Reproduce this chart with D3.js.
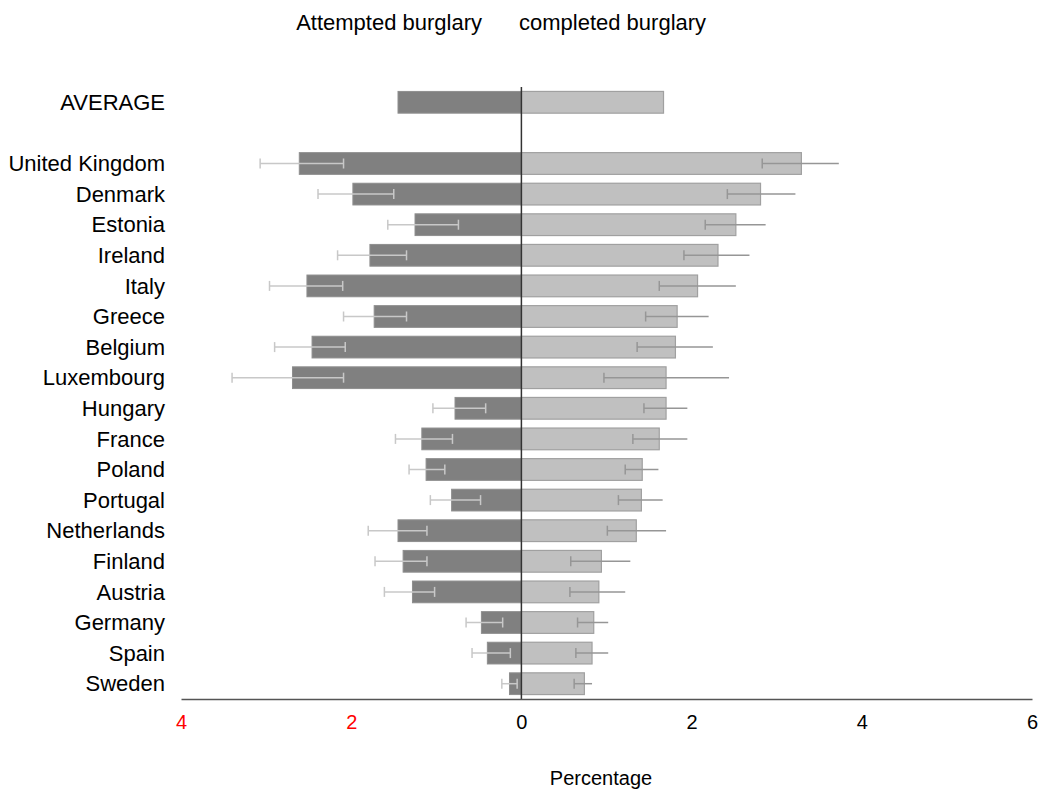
<!DOCTYPE html>
<html>
<head>
<meta charset="utf-8">
<script src="https://cdn.jsdelivr.net/npm/d3@7"></script>
<style>
  html, body { margin: 0; padding: 0; background: #fff; }
  svg { display: block; }
  text { font-family: "Liberation Sans", Arial, sans-serif; }
</style>
</head>
<body>
<svg id="chart" width="1040" height="792"></svg>
<script>
// ---- data ----
const categories = ["AVERAGE", "United Kingdom", "Denmark", "Estonia", "Ireland", "Italy", "Greece",
  "Belgium", "Luxembourg", "Hungary", "France", "Poland", "Portugal", "Netherlands",
  "Finland", "Austria", "Germany", "Spain", "Sweden"];
const attempted = [1.45, 2.61, 1.98, 1.25, 1.78, 2.52, 1.73, 2.46, 2.69, 0.78, 1.17, 1.12, 0.82, 1.45, 1.39, 1.28, 0.47, 0.40, 0.14];
const attemptedLow = [null, 2.09, 1.50, 0.74, 1.35, 2.10, 1.35, 2.07, 2.09, 0.42, 0.81, 0.90, 0.48, 1.11, 1.11, 1.02, 0.22, 0.13, 0.05];
const attemptedHigh = [null, 3.07, 2.39, 1.57, 2.16, 2.96, 2.09, 2.90, 3.40, 1.04, 1.48, 1.32, 1.07, 1.80, 1.72, 1.61, 0.65, 0.58, 0.23];
const completed = [1.67, 3.29, 2.81, 2.52, 2.31, 2.07, 1.83, 1.81, 1.70, 1.70, 1.62, 1.42, 1.41, 1.35, 0.94, 0.91, 0.85, 0.83, 0.74];
const completedLow = [null, 2.83, 2.42, 2.16, 1.91, 1.62, 1.46, 1.36, 0.97, 1.44, 1.31, 1.22, 1.14, 1.01, 0.58, 0.57, 0.66, 0.64, 0.62];
const completedHigh = [null, 3.73, 3.22, 2.87, 2.68, 2.52, 2.20, 2.25, 2.44, 1.95, 1.95, 1.61, 1.66, 1.70, 1.28, 1.22, 1.02, 1.02, 0.83];
const tickValues = [-4, -2, 0, 2, 4, 6];
const seriesTitles = ["Attempted burglary", "completed burglary"];
const axisTitle = "Percentage";

// ---- build rows ----
const SPACER = "__spacer__";
const rows = categories.map((c, i) => ({
  name: c,
  att: attempted[i], attLo: attemptedLow[i], attHi: attemptedHigh[i],
  comp: completed[i], compLo: completedLow[i], compHi: completedHigh[i]
}));
const domainY = [categories[0], SPACER].concat(categories.slice(1));

const svg = d3.select("#chart");
const x = d3.scaleLinear().domain([-4, 6]).range([181, 1032]);
const y = d3.scaleBand().domain(domainY).range([87, 699]).paddingInner(0.29).paddingOuter(0.145);

// bars: attempted (left, plotted negative)
svg.append("g").selectAll("rect").data(rows).join("rect")
  .attr("x", d => x(-d.att))
  .attr("y", d => y(d.name))
  .attr("width", d => x(0) - x(-d.att))
  .attr("height", y.bandwidth())
  .attr("fill", "#808080")
  .attr("stroke", "#8e8e8e")
  .attr("stroke-width", 1);

// bars: completed (right)
svg.append("g").selectAll("rect").data(rows).join("rect")
  .attr("x", x(0))
  .attr("y", d => y(d.name))
  .attr("width", d => x(d.comp) - x(0))
  .attr("height", y.bandwidth())
  .attr("fill", "#c0c0c0")
  .attr("stroke", "#a0a0a0")
  .attr("stroke-width", 1.2);

// error bars attempted (light, caps both ends)
const capH = 10;
const eAtt = svg.append("g").attr("stroke", "#c8c8c8").attr("stroke-width", 1.5);
rows.filter(d => d.attLo != null).forEach(d => {
  const cy = y(d.name) + y.bandwidth() / 2;
  const x1 = x(-d.attHi), x2 = x(-d.attLo);
  eAtt.append("line").attr("x1", x1).attr("x2", x2).attr("y1", cy).attr("y2", cy);
  eAtt.append("line").attr("x1", x1).attr("x2", x1).attr("y1", cy - capH / 2).attr("y2", cy + capH / 2);
  eAtt.append("line").attr("x1", x2).attr("x2", x2).attr("y1", cy - capH / 2).attr("y2", cy + capH / 2);
});

// error bars completed (darker, cap at inner end)
const eComp = svg.append("g").attr("stroke", "#969696").attr("stroke-width", 1.5);
rows.filter(d => d.compLo != null).forEach(d => {
  const cy = y(d.name) + y.bandwidth() / 2;
  const x1 = x(d.compLo), x2 = x(d.compHi);
  eComp.append("line").attr("x1", x1).attr("x2", x2).attr("y1", cy).attr("y2", cy);
  eComp.append("line").attr("x1", x1).attr("x2", x1).attr("y1", cy - capH / 2).attr("y2", cy + capH / 2);
});

// zero line
svg.append("line")
  .attr("x1", x(0)).attr("x2", x(0))
  .attr("y1", 87).attr("y2", 699)
  .attr("stroke", "#333").attr("stroke-width", 1.5);

// x axis
const xAxis = d3.axisBottom(x).tickValues(tickValues).tickSize(0).tickSizeOuter(0).tickPadding(16)
  .tickFormat(d => String(Math.abs(d)));
const gx = svg.append("g").attr("transform", "translate(0,699)").call(xAxis);
gx.select(".domain").attr("stroke", "#555").attr("stroke-width", 1.5);
gx.selectAll(".tick text")
  .style("font-size", "20px")
  .style("font-family", "Liberation Sans, Arial, sans-serif")
  .style("fill", d => d < 0 ? "#ff0000" : "#000000");

// category labels
svg.append("g").selectAll("text").data(rows).join("text")
  .attr("x", 165)
  .attr("y", d => y(d.name) + y.bandwidth() / 2)
  .attr("dy", "0.35em")
  .attr("text-anchor", "end")
  .attr("font-size", 22)
  .attr("fill", "#000")
  .text(d => d.name);

// series titles
svg.append("text").attr("x", 482).attr("y", 30).attr("text-anchor", "end")
  .attr("font-size", 22).attr("fill", "#000").text(seriesTitles[0]);
svg.append("text").attr("x", 519).attr("y", 30).attr("text-anchor", "start")
  .attr("font-size", 22).attr("fill", "#000").text(seriesTitles[1]);

// axis title
svg.append("text").attr("x", 601).attr("y", 785).attr("text-anchor", "middle")
  .attr("font-size", 20).attr("fill", "#000").text(axisTitle);
</script>
</body>
</html>
